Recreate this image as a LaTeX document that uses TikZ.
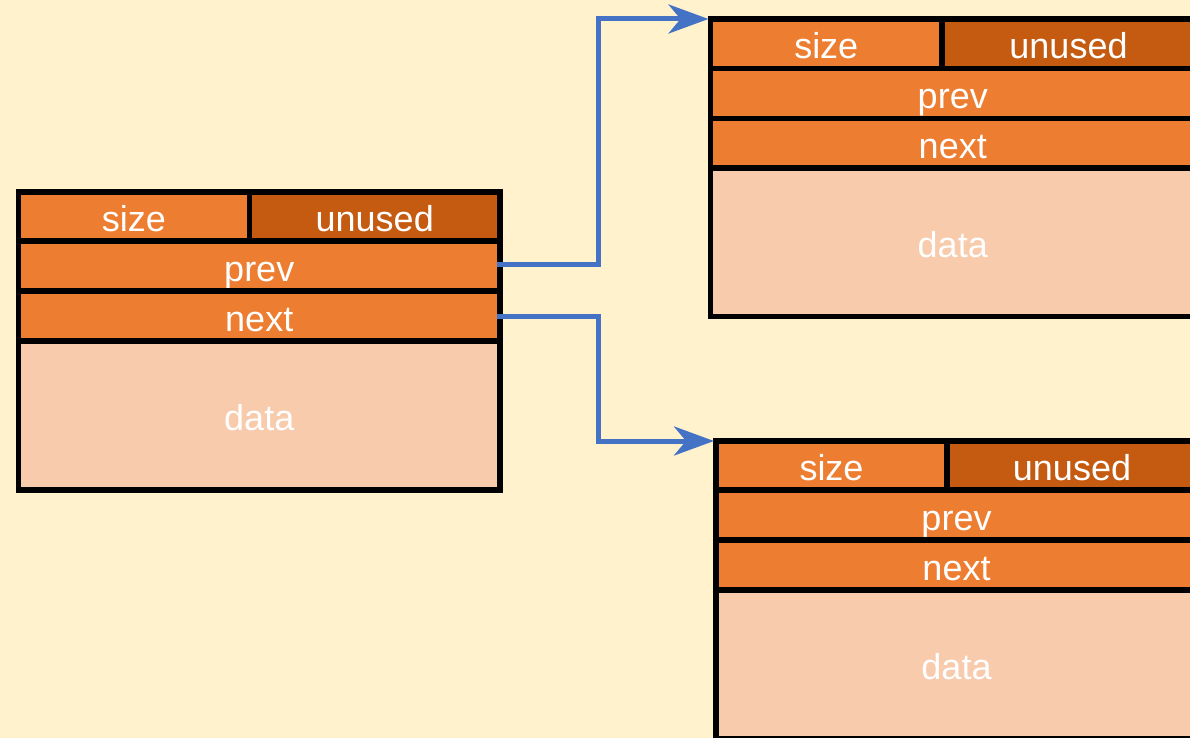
\documentclass[tikz,border=0pt]{standalone}
\usepackage{fontspec}
\setmainfont{Liberation Sans}
\usetikzlibrary{arrows.meta,calc}
\definecolor{bg}{HTML}{FFF2CC}
\definecolor{orangeA}{HTML}{ED7D31}
\definecolor{orangeB}{HTML}{C55A11}
\definecolor{peach}{HTML}{F8CBAD}
\definecolor{linkblue}{HTML}{4472C4}
\tikzset{
  cell/.style={draw=black, line width=5.5pt, fill=orangeA, text=white, outer sep=0pt, inner sep=0pt,
    anchor=north west, font=\fontsize{36}{40}\selectfont, text height=34pt, text depth=4pt},
  darkcell/.style={cell, fill=orangeB},
  datacell/.style={cell, fill=peach},
  link/.style={draw=linkblue, line width=5pt, -{Stealth[length=40pt,width=29pt,inset=12pt]}, shorten >=2pt}
}
\begin{document}
\begin{tikzpicture}[x=1pt,y=-1pt]
\useasboundingbox (0,0) rectangle (1190,738);
\fill[bg] (0,0) rectangle (1190,738);
% left block
\node[cell, minimum width=231pt, minimum height=49pt] (L-size) at (18.5,192) {size};
\node[darkcell, minimum width=250.5pt, minimum height=49pt] (L-unused) at (249.5,192) {unused};
\node[cell, minimum width=481.5pt, minimum height=50pt] (L-prev) at (18.5,241) {prev};
\node[cell, minimum width=481.5pt, minimum height=50pt] (L-next) at (18.5,291) {next};
\node[datacell, minimum width=481.5pt, minimum height=149pt] (L-data) at (18.5,341) {data};
% top right block
\node[cell, minimum width=231.5pt, minimum height=49.5pt] (T-size) at (710.5,19) {size};
\node[darkcell, minimum width=253pt, minimum height=49.5pt] (T-unused) at (942,19) {unused};
\node[cell, minimum width=484.5pt, minimum height=50pt] (T-prev) at (710.5,68.5) {prev};
\node[cell, minimum width=484.5pt, minimum height=49.5pt] (T-next) at (710.5,118.5) {next};
\node[datacell, minimum width=484.5pt, minimum height=148.5pt] (T-data) at (710.5,168) {data};
% bottom right block
\node[cell, minimum width=231pt, minimum height=49pt] (B-size) at (716,441) {size};
\node[darkcell, minimum width=250pt, minimum height=49pt] (B-unused) at (947,441) {unused};
\node[cell, minimum width=481pt, minimum height=50pt] (B-prev) at (716,490) {prev};
\node[cell, minimum width=481pt, minimum height=50pt] (B-next) at (716,540) {next};
\node[datacell, minimum width=481pt, minimum height=149pt] (B-data) at (716,590) {data};
% links
\draw[link] ([xshift=-3pt,yshift=2pt]L-prev.east) -- ++(101,0) |- (T-size.north west);
\draw[link] ([xshift=-3pt]L-next.east) -- ++(101,0) |- (B-size.north west);
\end{tikzpicture}
\end{document}
